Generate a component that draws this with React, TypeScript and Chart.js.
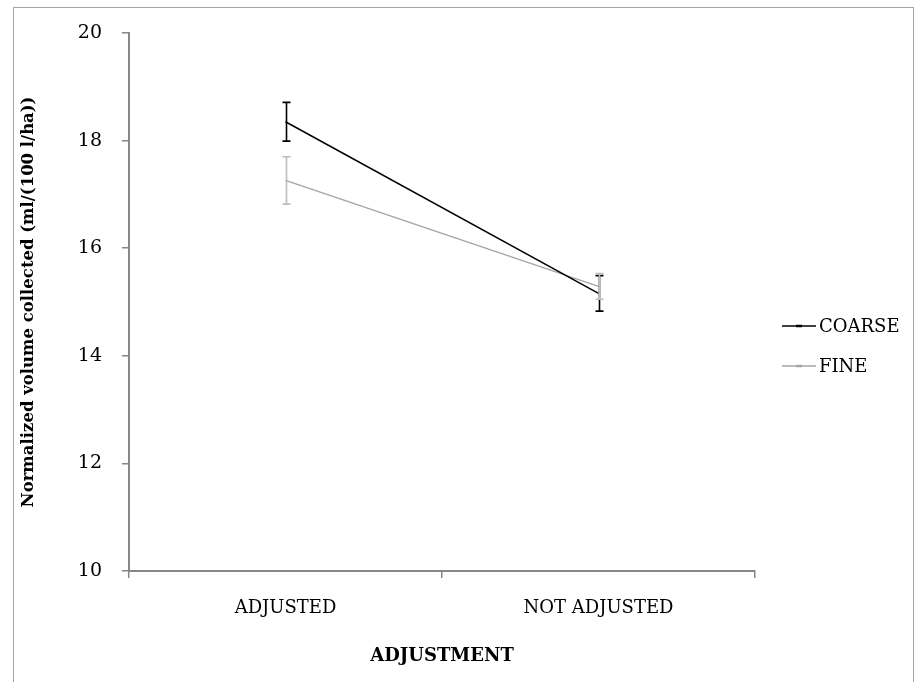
import React, { useEffect, useRef } from "react";
import { Chart, registerables } from "chart.js";

Chart.register(...registerables);

const categories = ["ADJUSTED", "NOT ADJUSTED"];
const seriesNames = ["COARSE", "FINE"];
const coarseValues = [18.35, 15.16];
const coarseErrors = [0.36, 0.33];
const fineValues = [17.26, 15.29];
const fineErrors = [0.44, 0.24];
const yMin = 10;
const yMax = 20;
const yStep = 2;
const xTitle = "ADJUSTMENT";
const yTitle = "Normalized volume collected (ml/(100 l/ha))";

const FONT = "'DejaVu Serif', 'Liberation Serif', serif";
const AXIS_GRAY = "#878787";
const COARSE_COLOR = "#000000";
const FINE_COLOR = "#a6a6a6";
const FINE_ERR_COLOR = "#bdbdbd";

const errorBarPlugin = {
  id: "errorBars",
  afterDatasetsDraw(chart: any) {
    const ctx = chart.ctx;
    const xs = chart.scales.x;
    const ys = chart.scales.y;
    chart.data.datasets.forEach((ds: any) => {
      const errs: number[] = ds.errors || [];
      ctx.save();
      ctx.strokeStyle = ds.errorColor || ds.borderColor;
      ctx.lineWidth = 1.6;
      ds.data.forEach((v: number, i: number) => {
        const e = errs[i] || 0;
        const x = Math.round(xs.getPixelForValue(i)) + 0.5;
        const yt = ys.getPixelForValue(v + e);
        const yb = ys.getPixelForValue(v - e);
        ctx.beginPath();
        ctx.moveTo(x, yt);
        ctx.lineTo(x, yb);
        ctx.moveTo(x - 4, yt);
        ctx.lineTo(x + 4, yt);
        ctx.moveTo(x - 4, yb);
        ctx.lineTo(x + 4, yb);
        ctx.stroke();
      });
      ctx.restore();
    });
  },
};

const legendPlugin = {
  id: "sideLegend",
  afterDraw(chart: any) {
    const ctx = chart.ctx;
    const area = chart.chartArea;
    const x0 = area.right + 27;
    const yBase = chart.height / 2 - 15;
    chart.data.datasets.forEach((ds: any, i: number) => {
      const y = yBase + i * 40;
      ctx.save();
      ctx.strokeStyle = ds.borderColor;
      ctx.lineWidth = 1.5;
      ctx.beginPath();
      ctx.moveTo(x0, y);
      ctx.lineTo(x0 + 34, y);
      ctx.stroke();
      ctx.lineWidth = 2.5;
      ctx.beginPath();
      ctx.moveTo(x0 + 14, y);
      ctx.lineTo(x0 + 20, y);
      ctx.stroke();
      ctx.fillStyle = "#000";
      ctx.font = "18px " + FONT;
      ctx.textBaseline = "middle";
      ctx.textAlign = "left";
      ctx.fillText(ds.label, x0 + 37, y + 1);
      ctx.restore();
    });
  },
};

export default function App() {
  const canvasRef = useRef<HTMLCanvasElement | null>(null);

  useEffect(() => {
    if (!canvasRef.current) return;
    const chart = new Chart(canvasRef.current, {
      type: "line",
      data: {
        labels: categories,
        datasets: [
          {
            label: seriesNames[0],
            data: coarseValues,
            errors: coarseErrors,
            errorColor: COARSE_COLOR,
            borderColor: COARSE_COLOR,
            backgroundColor: COARSE_COLOR,
            borderWidth: 1.5,
            pointRadius: 0,
            fill: false,
          } as any,
          {
            label: seriesNames[1],
            data: fineValues,
            errors: fineErrors,
            errorColor: FINE_ERR_COLOR,
            borderColor: FINE_COLOR,
            backgroundColor: FINE_COLOR,
            borderWidth: 1.5,
            pointRadius: 0,
            fill: false,
          } as any,
        ],
      },
      options: {
        responsive: false,
        animation: false,
        devicePixelRatio: 1,
        layout: { padding: { left: 0, top: 33, right: 165, bottom: 0 } },
        plugins: {
          legend: { display: false },
          tooltip: { enabled: false },
        },
        scales: {
          x: {
            type: "category",
            offset: true,
            afterFit(scale: any) {
              scale.height = 111;
            },
            grid: {
              display: true,
              offset: true,
              drawOnChartArea: false,
              drawTicks: true,
              tickLength: 7,
              color: AXIS_GRAY,
              lineWidth: 1.5,
            },
            border: { display: true, color: AXIS_GRAY, width: 2 },
            ticks: {
              color: "#000",
              font: { family: FONT, size: 18 },
              padding: 20,
              maxRotation: 0,
            },
            title: {
              display: true,
              text: xTitle,
              color: "#000",
              font: { family: FONT, size: 18, weight: "bold" },
              padding: { top: 0, bottom: 15 },
            },
          },
          y: {
            min: yMin,
            max: yMax,
            afterFit(scale: any) {
              scale.width = 129;
            },
            grid: {
              display: true,
              drawOnChartArea: false,
              drawTicks: true,
              tickLength: 7,
              color: AXIS_GRAY,
              lineWidth: 1.5,
            },
            border: { display: true, color: AXIS_GRAY, width: 2 },
            ticks: {
              stepSize: yStep,
              color: "#000",
              font: { family: FONT, size: 19 },
              padding: 20,
            },
            title: {
              display: true,
              text: yTitle,
              color: "#000",
              font: { family: FONT, size: 16.5, weight: "bold" },
              padding: { top: 19, bottom: 0 },
            },
          },
        },
      },
      plugins: [errorBarPlugin, legendPlugin],
    });
    return () => chart.destroy();
  }, []);

  return (
    <div
      style={{
        position: "absolute",
        left: 0,
        top: 0,
        width: 920,
        height: 682,
        overflow: "hidden",
        background: "#fff",
      }}
    >
      <div
        style={{
          position: "absolute",
          left: 13,
          top: 7,
          width: 901,
          height: 690,
          border: "1px solid #a6a6a6",
          boxSizing: "border-box",
        }}
      />
      <canvas
        ref={canvasRef}
        width={920}
        height={682}
        style={{ position: "absolute", left: 0, top: 0, width: 920, height: 682 }}
      />
    </div>
  );
}
